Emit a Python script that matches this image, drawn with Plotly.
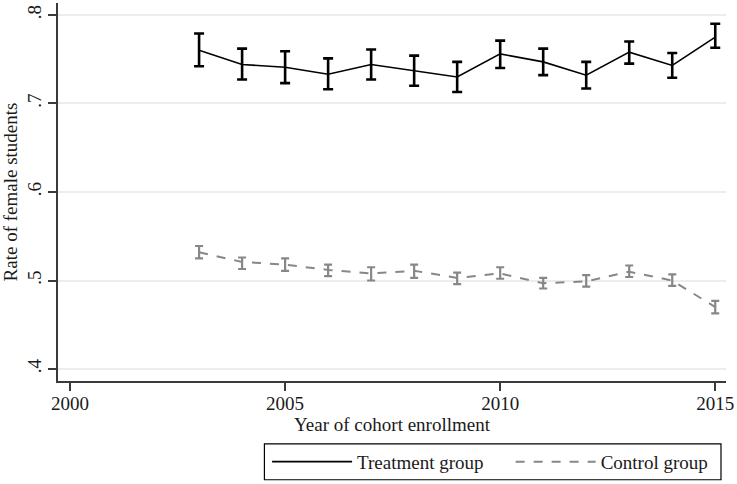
import plotly.graph_objects as go

# Cohort enrollment years
years = [2003, 2004, 2005, 2006, 2007, 2008, 2009, 2010, 2011, 2012, 2013, 2014, 2015]

# Treatment group: mean rate with 95% CI bounds
treat_mean = [0.760, 0.744, 0.741, 0.733, 0.744, 0.737, 0.730, 0.756, 0.747, 0.732, 0.758, 0.743, 0.775]
treat_lo = [0.742, 0.727, 0.723, 0.716, 0.727, 0.720, 0.713, 0.740, 0.732, 0.717, 0.745, 0.729, 0.763]
treat_hi = [0.779, 0.762, 0.759, 0.751, 0.761, 0.754, 0.747, 0.771, 0.762, 0.747, 0.770, 0.757, 0.790]

# Control group: mean rate with 95% CI bounds
ctrl_mean = [0.532, 0.521, 0.518, 0.512, 0.508, 0.511, 0.503, 0.508, 0.497, 0.499, 0.510, 0.500, 0.470]
ctrl_lo = [0.525, 0.513, 0.511, 0.505, 0.500, 0.503, 0.496, 0.502, 0.491, 0.493, 0.504, 0.494, 0.463]
ctrl_hi = [0.539, 0.526, 0.525, 0.518, 0.515, 0.518, 0.509, 0.515, 0.503, 0.506, 0.517, 0.507, 0.477]

# Axis ticks
x_ticks = [2000, 2005, 2010, 2015]
y_ticks = [0.4, 0.5, 0.6, 0.7, 0.8]
y_ticktext = [".4", ".5", ".6", ".7", ".8"]

FONT = "Liberation Serif, Times New Roman, serif"
FONT_SIZE = 19
TEXT_COLOR = "#1a1a1a"
AXIS_COLOR = "#3a3a3a"
GRID_COLOR = "#e9eef1"
CTRL_COLOR = "#878787"

# Legend row geometry (paper coordinates, below the plot area)
LEG_ROW_Y = -0.2137
LEG_BOX = dict(x0=0.309, x1=0.9925, y0=-0.2612, y1=-0.1662)


def err_up(mean, hi):
    return [h - m for m, h in zip(mean, hi)]


def err_down(mean, lo):
    return [m - l for m, l in zip(mean, lo)]


fig = go.Figure()

fig.add_trace(go.Scatter(
    x=years, y=treat_mean, mode="lines", name="Treatment group",
    legend="legend",
    line=dict(color="black", width=1.6),
    error_y=dict(type="data", symmetric=False,
                 array=err_up(treat_mean, treat_hi),
                 arrayminus=err_down(treat_mean, treat_lo),
                 color="black", thickness=2.6, width=5),
))

fig.add_trace(go.Scatter(
    x=years, y=ctrl_mean, mode="lines", name="Control group",
    legend="legend2",
    line=dict(color=CTRL_COLOR, width=2, dash="dash"),
    error_y=dict(type="data", symmetric=False,
                 array=err_up(ctrl_mean, ctrl_hi),
                 arrayminus=err_down(ctrl_mean, ctrl_lo),
                 color=CTRL_COLOR, thickness=2.2, width=4),
))

legend_common = dict(
    orientation="h", yanchor="middle", y=LEG_ROW_Y, xanchor="left",
    borderwidth=0, bgcolor="rgba(0,0,0,0)",
    font=dict(family=FONT, size=FONT_SIZE, color=TEXT_COLOR),
    itemwidth=80,
)

fig.update_layout(
    width=737, height=484,
    margin=dict(l=58, r=9, t=3, b=102),
    paper_bgcolor="white", plot_bgcolor="white",
    font=dict(family=FONT, size=FONT_SIZE, color=TEXT_COLOR),
    showlegend=True,
    legend=dict(x=0.313, **legend_common),
    legend2=dict(x=0.6776, **legend_common),
    shapes=[dict(type="rect", xref="paper", yref="paper",
                 line=dict(color="black", width=1.2), fillcolor="rgba(0,0,0,0)",
                 layer="below", **LEG_BOX)],
)

fig.update_xaxes(
    range=[1999.72, 2015.25], tickvals=x_ticks,
    ticks="outside", ticklen=8, tickwidth=1.5, tickcolor=AXIS_COLOR,
    ticklabelstandoff=-4,
    showline=True, linecolor=AXIS_COLOR, linewidth=1.5,
    showgrid=False, zeroline=False,
    title=dict(text="Year of cohort enrollment", standoff=1,
               font=dict(family=FONT, size=FONT_SIZE)),
)

fig.update_yaxes(
    range=[0.3865, 0.8135], tickvals=y_ticks, ticktext=y_ticktext,
    tickangle=-90,
    ticks="outside", ticklen=8, tickwidth=1.5, tickcolor=AXIS_COLOR,
    showline=True, linecolor=AXIS_COLOR, linewidth=1.5,
    showgrid=True, gridcolor=GRID_COLOR, gridwidth=1.5, zeroline=False,
    title=dict(text="Rate of female students", standoff=1,
               font=dict(family=FONT, size=FONT_SIZE)),
)

fig.write_html("out.html")
